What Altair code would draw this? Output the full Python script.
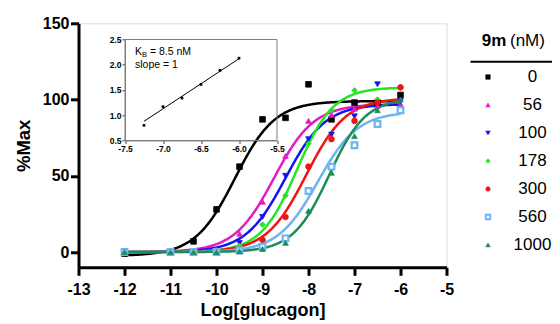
import altair as alt
import pandas as pd

# ---------------- data ----------------
LOG_GLUCAGON = [-12, -11, -10.5, -10, -9.5, -9, -8.5, -8, -7.5, -7, -6.5, -6]
SERIES = ["0", "56", "100", "178", "300", "560", "1000"]

PCT_0 = [-1, 0, 7, 28, 56, 87, 88, 110, 87, 98, 98, 103]
PCT_56 = [0, 0, 0, 2, 12, 33, 63, 86, 90, 94, 96, 97]
PCT_100 = [0, 0, 0, 1, 6, 23, 50, 74, 77, 89, 110, 99]
PCT_178 = [0, 0, 0, 0.5, 4, 18, 37, 71, 93, 106, 100, 108]
PCT_300 = [0, 0, 0, 0, 1.5, 8, 23, 56, 74, 86, 98, 108]
PCT_560 = [0, 0, 0, 0, 1, 3.5, 9, 40, 56, 70, 84, 93]
PCT_1000 = [0, 0, 0, 0, 0.5, 2, 6, 27, 52, 76, 93, 100]

# fitted sigmoid parameters
FIT_BOTTOM = [-2.5, 0, 0, 0, 0, 0, 0]
FIT_TOP = [99, 97, 97, 108, 101, 92, 101]
FIT_LOGEC50 = [-9.6, -8.75, -8.5, -8.25, -8.05, -7.8, -7.55]
FIT_HILL = [1.0, 1.0, 1.0, 1.1, 1.0, 1.0, 1.1]

# Schild inset
INSET_X = [-7.25, -7.0, -6.75, -6.5, -6.25, -6.0]
INSET_Y = [0.80, 1.17, 1.34, 1.61, 1.89, 2.13]
INSET_LINE_X = [-7.25, -6.0]
INSET_LINE_Y = [0.88, 2.12]

# ---------------- styles ----------------
COLORS = ["#000000", "#E31CC4", "#1414F0", "#22E622", "#F01414", "#6EB4F0", "#1E8C5A"]
FILLS = ["#000000", "#E31CC4", "#1414F0", "#22E622", "#F01414", "#FFFFFF", "#1E8C5A"]
SHAPES = ["square", "triangle-up", "triangle-down", "diamond", "circle", "square", "triangle-up"]
FONT = "Liberation Sans"
W, H = 368, 244
MINUS = "replace(datum.label, '\u2212', '-')"

all_pct = [PCT_0, PCT_56, PCT_100, PCT_178, PCT_300, PCT_560, PCT_1000]
points_df = pd.DataFrame(
    [{"series": s, "lx": x, "pct": v} for s, vals in zip(SERIES, all_pct) for x, v in zip(LOG_GLUCAGON, vals)]
)
params_df = pd.DataFrame({
    "series": SERIES, "bottom": FIT_BOTTOM, "top": FIT_TOP,
    "logec50": FIT_LOGEC50, "hill": FIT_HILL,
})
inset_pts = pd.DataFrame({"x": INSET_X, "y": INSET_Y})
inset_line = pd.DataFrame({"x": INSET_LINE_X, "y": INSET_LINE_Y})
inset_box = pd.DataFrame({"x": [-7.5], "x2": [-5.5], "y": [0.5], "y2": [2.5]})

stroke_scale = alt.Scale(domain=SERIES, range=COLORS)
fill_scale = alt.Scale(domain=SERIES, range=FILLS)
shape_scale = alt.Scale(domain=SERIES, range=SHAPES)

# ---------------- main plot ----------------
x_axis = alt.Axis(
    values=list(range(-13, -4)), labelExpr=MINUS, title="Log[glucagon]",
    labelFont=FONT, labelFontSize=16, labelFontWeight="bold", labelColor="black",
    titleFont=FONT, titleFontSize=18, titleFontWeight="bold", titleColor="black",
    domainColor="black", domainWidth=3, tickColor="black", tickWidth=3, tickSize=8,
    labelPadding=6, titlePadding=4, grid=False, labelFlush=False,
)
y_axis = alt.Axis(
    values=[0, 50, 100, 150], title="%Max",
    labelFont=FONT, labelFontSize=16, labelFontWeight="bold", labelColor="black",
    titleFont=FONT, titleFontSize=18.5, titleFontWeight="bold", titleColor="black",
    domainColor="black", domainWidth=3, tickColor="black", tickWidth=3, tickSize=8,
    labelPadding=1.5, titlePadding=9, grid=False,
)
x_main = alt.X("lx:Q", scale=alt.Scale(domain=[-13, -5], nice=False, zero=False), axis=x_axis)
y_main = alt.Y("pct:Q", scale=alt.Scale(domain=[-10, 150], nice=False, zero=False), axis=y_axis)

curves = alt.Chart(params_df).transform_calculate(
    lx="sequence(-12, -5.99, 0.02)"
).transform_flatten(["lx"]).transform_calculate(
    pct="datum.bottom + (datum.top - datum.bottom) / (1 + pow(10, (datum.logec50 - datum.lx) * datum.hill))"
).mark_line(strokeWidth=2.5).encode(
    x=x_main, y=y_main,
    stroke=alt.Stroke("series:N", scale=stroke_scale, legend=None),
    detail="series:N",
)

points = alt.Chart(points_df).mark_point(filled=True, size=32, opacity=1).encode(
    x=x_main, y=y_main,
    shape=alt.Shape("series:N", scale=shape_scale, legend=None),
    fill=alt.Fill("series:N", scale=fill_scale, legend=None),
    stroke=alt.Stroke("series:N", scale=stroke_scale, legend=None),
    strokeWidth=alt.condition("datum.series == '560'", alt.value(2.2), alt.value(0.8)),
)

main_group = alt.layer(curves, points)

# ---------------- inset ----------------
ix_axis = alt.Axis(
    orient="bottom", offset=-126.8, values=[-7.5, -7.0, -6.5, -6.0, -5.5], format=".1f",
    labelExpr=MINUS, title=None, labelFont=FONT, labelFontSize=8.5, labelFontWeight="bold",
    labelColor="black", domainColor="#808080", domainWidth=1, tickColor="#404040",
    tickWidth=1, tickSize=3, labelPadding=1, grid=False, labelFlush=False,
)
iy_axis = alt.Axis(
    orient="left", offset=-46.5, values=[0.5, 1.0, 1.5, 2.0, 2.5], format=".1f",
    title=None, labelFont=FONT, labelFontSize=8.5, labelFontWeight="bold",
    labelColor="black", domainColor="#808080", domainWidth=1, tickColor="#404040",
    tickWidth=1, tickSize=3, labelPadding=1, grid=False,
)
x_in = alt.X("x:Q", scale=alt.Scale(domain=[-7.5, -5.5], range=[46.5, 198.5], nice=False, zero=False), axis=ix_axis)
y_in = alt.Y("y:Q", scale=alt.Scale(domain=[0.5, 2.5], range=[117.2, 16.2], nice=False, zero=False), axis=iy_axis)

box = alt.Chart(inset_box).mark_rect(fill="transparent", stroke="#808080", strokeWidth=1).encode(
    x=x_in, x2="x2:Q", y=y_in, y2="y2:Q"
)
iline = alt.Chart(inset_line).mark_line(color="black", strokeWidth=1).encode(x=x_in, y=y_in)
ipts = alt.Chart(inset_pts).mark_square(color="black", size=7, opacity=1).encode(x=x_in, y=y_in)

def label(txt, x, y, size, weight="normal", align="left"):
    return alt.Chart(pd.DataFrame({"t": [txt]})).mark_text(
        font=FONT, fontSize=size, fontWeight=weight, align=align, baseline="middle", color="black"
    ).encode(text="t:N", x=alt.value(x), y=alt.value(y))

kb_k = label("K", 56.5, 28.6, 10.5)
kb_b = label("B", 63.6, 31.6, 7.5)
kb_rest = label("= 8.5 nM", 71.5, 28.6, 10.5)
slope = label("slope = 1", 56.5, 41.8, 10.5)

inset_group = alt.layer(box, iline, ipts, kb_k, kb_b, kb_rest, slope)

# ---------------- legend ----------------
legend_df = pd.DataFrame({"series": SERIES})
leg_y = alt.Y("series:N", scale=alt.Scale(type="point", domain=SERIES, range=[53.7, 221.7], padding=0), axis=None)
leg_pts = alt.Chart(legend_df).mark_point(filled=True, size=20, opacity=1).encode(
    x=alt.value(409.5), y=leg_y,
    shape=alt.Shape("series:N", scale=shape_scale, legend=None),
    fill=alt.Fill("series:N", scale=fill_scale, legend=None),
    stroke=alt.Stroke("series:N", scale=stroke_scale, legend=None),
    strokeWidth=alt.condition("datum.series == '560'", alt.value(1.8), alt.value(0.6)),
)
leg_txt = alt.Chart(legend_df).mark_text(font=FONT, fontSize=17, align="center", baseline="middle", color="black").encode(
    x=alt.value(454), y=leg_y, text="series:N"
)
leg_t1 = label("9m", 403.2, 17.4, 17, weight="bold")
leg_t2 = label("(nM)", 431.5, 17.4, 17)
leg_rule = alt.Chart(pd.DataFrame({"t": [0]})).mark_rule(color="black", strokeWidth=2).encode(
    x=alt.value(392), x2=alt.value(473.5), y=alt.value(38.4)
)
legend_group = alt.layer(leg_rule, leg_t1, leg_t2, leg_pts, leg_txt)

chart = alt.layer(main_group, inset_group, legend_group).resolve_scale(
    x="independent", y="independent"
).properties(
    width=W, height=H,
    autosize=alt.AutoSizeParams(type="none"),
    padding={"left": 70.5, "top": 15.3, "right": 105, "bottom": 56},
).configure_view(stroke="black", strokeWidth=3).configure(font=FONT)

chart.save("out.html", embed_options={"renderer": "svg", "actions": False})
